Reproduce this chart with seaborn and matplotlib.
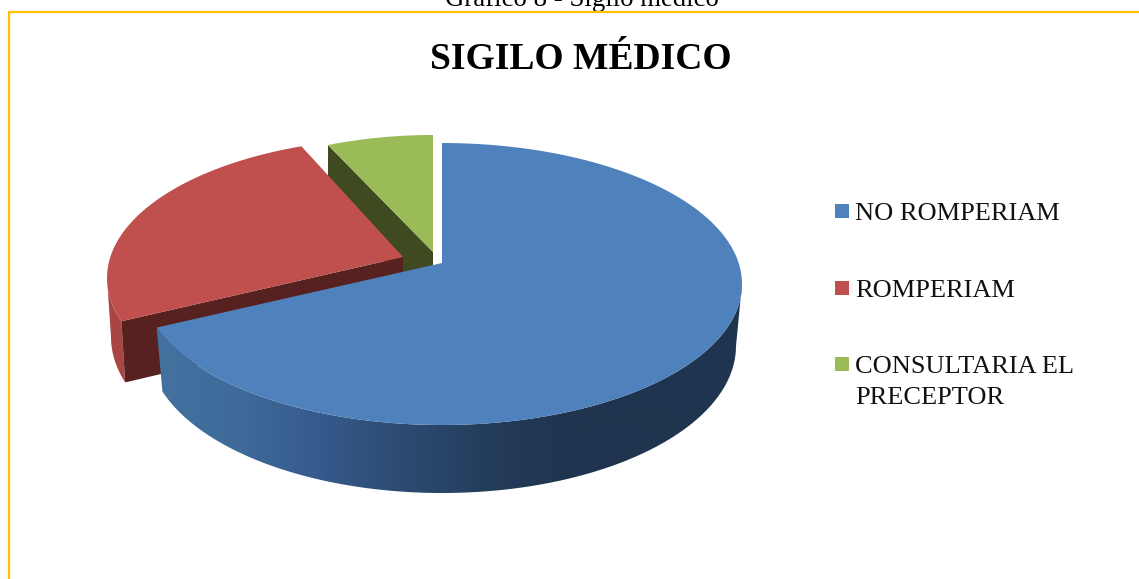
import numpy as np
import matplotlib
matplotlib.use("Agg")
import matplotlib.pyplot as plt
from matplotlib.patches import Polygon
import seaborn as sns

# Data (percent of the pie)
labels = ['NO ROMPERIAM', 'ROMPERIAM', 'CONSULTARIA EL\nPRECEPTOR']
values = [70, 24.5, 5.5]

top_colors = ['#4f81bd', '#c0504d', '#9bbb59']
wall_colors = ['#1f3550', '#572120', '#3f4a20']

# Fake 3D layout, in pixels: cx, cy, rx, ry of the top ellipse, then apex
top_ell = [(442, 284, 300, 141), (401, 278, 294, 140), (433, 305, 310, 170)]
bot_ell = [(442, 346, 294, 147), (401, 337, 290, 147), (433, 337, 300, 147)]
apex = [(442, 263), (403, 257), (433, 252)]
depth = 60

sns.set_theme(style="white")
plt.rcParams['font.family'] = ['Liberation Serif', 'DejaVu Serif']

fig = plt.figure(figsize=(11.39, 5.79), dpi=100)
ax = fig.add_axes([0, 0, 1, 1])
ax.axis('off')


def ell_pts(e, t):
    t = np.radians(t)
    return e[0] + e[2] * np.sin(t), e[1] - e[3] * np.cos(t)


# clockwise from 12 o'clock
edges = np.concatenate([[0], np.cumsum(values)]) / np.sum(values) * 360

# Blue side with its gradient, left to right
side_pal = sns.blend_palette(['#44729f', '#3f6a99', '#35598a', '#2c4a70', '#233c5a', '#1f344e', '#1f344e', '#1f344e'], 256, as_cmap=True)
side_t = np.linspace(edges[1], 90, 120)
x0, y0 = ell_pts(top_ell[0], side_t)
x1, y1 = ell_pts(bot_ell[0], side_t)
side_poly = Polygon(np.c_[np.r_[x0, x1[::-1]], np.r_[y0, y1[::-1]]], transform=ax.transData, fc='none', lw=0)
ax.add_patch(side_poly)
grad = ax.imshow(np.linspace(0, 1, 256)[None, :], cmap=side_pal, extent=(157, 742, 493, 280),
                 aspect='auto', zorder=5)
grad.set_clip_path(side_poly)

# Green slice, at the back
t = np.linspace(edges[2], edges[3], 30)
x, y = ell_pts(top_ell[2], t)
x0, y0 = x[0], y[0]
ax.fill([x0, apex[2][0], apex[2][0], x0], [y0, apex[2][1], apex[2][1] + depth, y0 + depth],
        color=wall_colors[2], lw=0, zorder=1)
ax.fill(np.r_[apex[2][0], x], np.r_[apex[2][1], y], color=top_colors[2], lw=0, zorder=2)

# Red slice
t = np.linspace(edges[1], edges[2], 60)
x, y = ell_pts(top_ell[1], t)
t_side = np.linspace(edges[1], 270, 20)
sx0, sy0 = ell_pts(top_ell[1], t_side)
sx1, sy1 = ell_pts(bot_ell[1], t_side)
ax.fill(np.r_[sx0, sx1[::-1]], np.r_[sy0, sy1[::-1]], color='#a94643', lw=0, zorder=3)
ax.fill([x[0], apex[1][0], apex[1][0], sx1[0]], [y[0], apex[1][1], apex[1][1] + depth, sy1[0]],
        color=wall_colors[1], lw=0, zorder=3)
ax.fill(np.r_[apex[1][0], x], np.r_[apex[1][1], y], color=top_colors[1], lw=0, zorder=4)

# Blue slice, in front
t = np.linspace(edges[0], edges[1], 160)
x, y = ell_pts(top_ell[0], t)
ax.fill(np.r_[apex[0][0], x], np.r_[apex[0][1], y], color=top_colors[0], lw=0, zorder=6)

# Frame and texts
ax.plot([9, 9, 1139], [579, 12, 12], color='#ffc000', lw=1.6, zorder=7)
ax.text(582, 6, 'Gráfico 8 - Sigilo médico', fontsize=19.3, ha='center', va='baseline', color='black')
ax.text(580.5, 69, 'SIGILO MÉDICO', fontsize=27, fontweight='bold', ha='center', va='baseline', color='black')

legend_y = [211, 288, 364]
for lab, col, ly in zip(labels, top_colors, legend_y):
    ax.scatter([842], [ly], marker='s', s=100, color=col, linewidths=0, zorder=8)
    ax.text(855, ly + 9, lab.split('\n')[0], fontsize=19, ha='left', va='baseline', color='#111111')
    if '\n' in lab:
        ax.text(855, ly + 40, lab.split('\n')[1], fontsize=19, ha='left', va='baseline', color='#111111')

ax.set_xlim(0, 1139)
ax.set_ylim(579, 0)

fig.savefig('out.png', dpi=100)
